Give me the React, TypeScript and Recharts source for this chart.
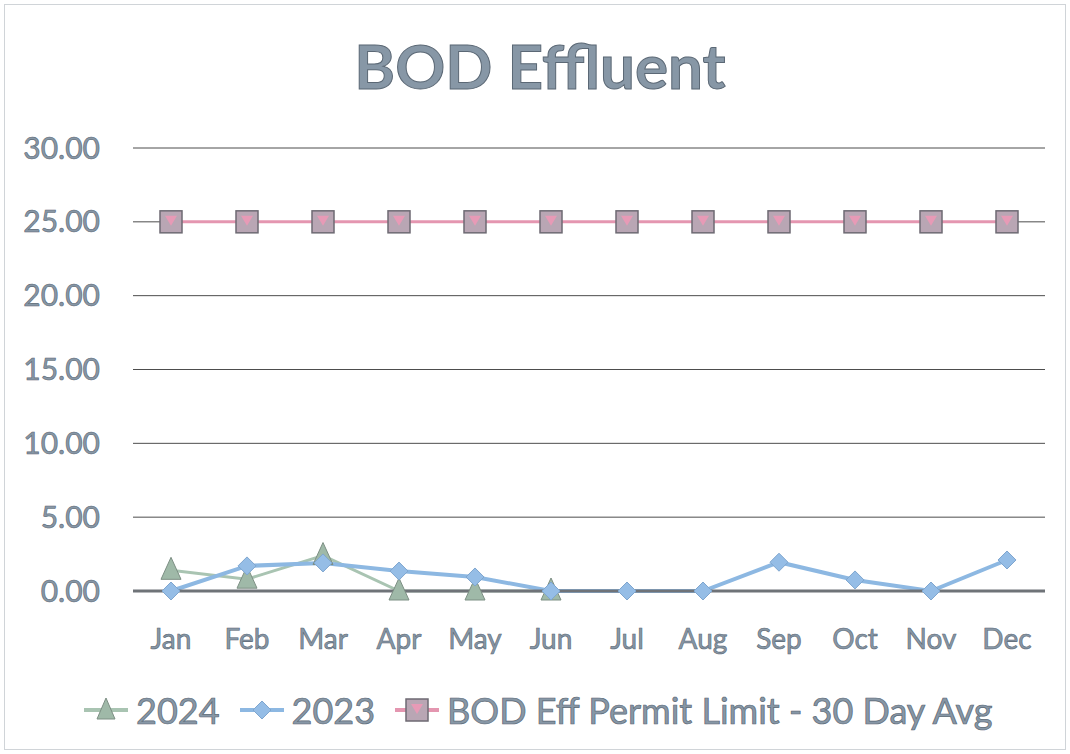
import React from 'react';
import { LineChart, Line, XAxis, YAxis, CartesianGrid } from 'recharts';

const months = ['Jan', 'Feb', 'Mar', 'Apr', 'May', 'Jun', 'Jul', 'Aug', 'Sep', 'Oct', 'Nov', 'Dec'];
const bod2024 = [1.4, 0.8, 2.4, 0, 0, 0, null, null, null, null, null, null];
const bod2023 = [0, 1.7, 1.9, 1.35, 0.95, 0, 0, 0, 1.95, 0.75, 0, 2.1];
const permitLimit = [25, 25, 25, 25, 25, 25, 25, 25, 25, 25, 25, 25];
const yTicks = [0, 5, 10, 15, 20, 25, 30];

const data = months.map((m, i) => ({
  month: m,
  y2024: bod2024[i],
  y2023: bod2023[i],
  limit: permitLimit[i],
}));

const TEXT = '#8797a6';
const OUTLINE = '#5b6875';
const FONT = 'Lato, "Open Sans", sans-serif';

const C2024 = '#a9c4b2';
const C2023 = '#8db8e2';
const CLIMIT = '#e496b0';

const Triangle = (props: any) => {
  const { cx, cy } = props;
  if (cx == null || cy == null || props.value == null) return null;
  return <polygon points={`${cx},${cy - 13} ${cx - 10},${cy + 9} ${cx + 10},${cy + 9}`} fill="#9fb9a8" stroke="#7d8f84" strokeWidth={1} />;
};

const Diamond = (props: any) => {
  const { cx, cy } = props;
  if (cx == null || cy == null) return null;
  return <polygon points={`${cx},${cy - 9} ${cx + 9},${cy} ${cx},${cy + 9} ${cx - 9},${cy}`} fill="#95bde6" stroke="#7fa6cf" strokeWidth={1} />;
};

const Square = (props: any) => {
  const { cx, cy } = props;
  if (cx == null || cy == null) return null;
  return (
    <g>
      <rect x={cx - 11} y={cy - 11} width={22} height={22} fill="#b9a6b4" stroke="#6e6a73" strokeWidth={1.5} />
      <polygon points={`${cx - 6},${cy - 6} ${cx + 6},${cy - 6} ${cx},${cy + 4}`} fill="#e79ab6" />
    </g>
  );
};

const tickStyle = { fill: TEXT, stroke: OUTLINE, strokeWidth: 0.6, fontFamily: FONT };

const LegendItem = ({ color, marker, label }: { color: string; marker: React.ReactNode; label: string }) => (
  <div style={{ display: 'flex', alignItems: 'center', marginRight: 18 }}>
    <svg width={48} height={30}>
      <line x1={2} y1={15} x2={46} y2={15} stroke={color} strokeWidth={4} />
      {marker}
    </svg>
    <span style={{ marginLeft: 6, color: TEXT, WebkitTextStroke: `0.7px ${OUTLINE}`, fontSize: 36, fontFamily: FONT }}>{label}</span>
  </div>
);

export default function App() {
  return (
    <div style={{ position: 'fixed', left: 0, top: 0, width: 1070, height: 754, background: '#fff', fontFamily: FONT }}>
      <div style={{ position: 'absolute', left: 4, top: 4, width: 1060, height: 744, border: '1px solid #d0d4d8' }} />
      <div
        style={{
          position: 'absolute',
          top: 28,
          left: 0,
          width: 1080,
          textAlign: 'center',
          fontSize: 62,
          fontWeight: 700,
          color: TEXT,
          WebkitTextStroke: `1px ${OUTLINE}`,
        }}
      >
        BOD Effluent
      </div>
      <div style={{ position: 'absolute', left: 0, top: 0 }}>
        <LineChart width={1070} height={754} data={data} margin={{ top: 148, right: 25, left: 0, bottom: 133 }}>
          <CartesianGrid vertical={false} stroke="#4d4d4d" strokeWidth={1} />
          <XAxis
            dataKey="month"
            height={30}
            padding={{ left: 38, right: 38 }}
            axisLine={{ stroke: '#6f7378', strokeWidth: 3 }}
            tickLine={false}
            tickMargin={32}
            tick={{ ...tickStyle, fontSize: 28 }}
            interval={0}
          />
          <YAxis
            width={133}
            domain={[0, 30]}
            ticks={yTicks}
            interval={0}
            tickFormatter={(v: number) => v.toFixed(2)}
            axisLine={false}
            tickLine={false}
            tickSize={0}
            tickMargin={33}
            tick={{ ...tickStyle, fontSize: 30 }}
          />
          <Line dataKey="limit" stroke={CLIMIT} strokeWidth={3} dot={<Square />} isAnimationActive={false} />
          <Line dataKey="y2024" stroke={C2024} strokeWidth={3} dot={<Triangle />} isAnimationActive={false} connectNulls={false} />
          <Line dataKey="y2023" stroke={C2023} strokeWidth={4} dot={<Diamond />} isAnimationActive={false} />
        </LineChart>
      </div>
      <div style={{ position: 'absolute', left: 82, top: 688, display: 'flex', alignItems: 'center' }}>
        <LegendItem
          color={C2024}
          label="2024"
          marker={<polygon points="24,3 15,24 33,24" fill="#9fb9a8" stroke="#7d8f84" />}
        />
        <LegendItem
          color={C2023}
          label="2023"
          marker={<polygon points="24,6 33,15 24,24 15,15" fill="#95bde6" stroke="#7fa6cf" />}
        />
        <LegendItem
          color={CLIMIT}
          label="BOD Eff Permit Limit - 30 Day Avg"
          marker={
            <g>
              <rect x={13} y={4} width={22} height={22} fill="#b9a6b4" stroke="#6e6a73" strokeWidth={1.5} />
              <polygon points="18,9 30,9 24,19" fill="#e79ab6" />
            </g>
          }
        />
      </div>
    </div>
  );
}
